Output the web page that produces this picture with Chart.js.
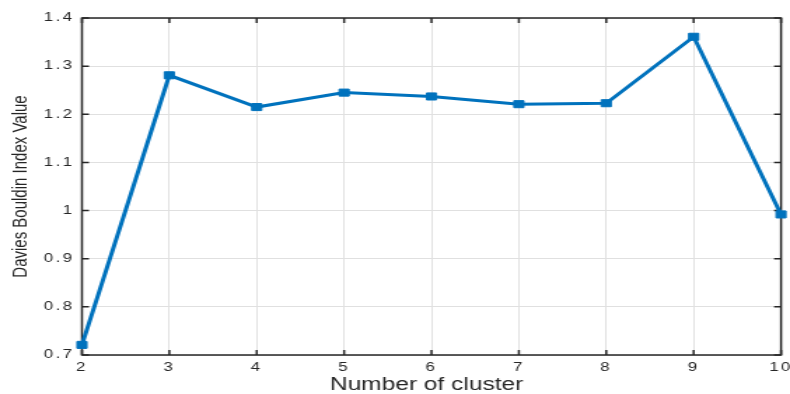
<!DOCTYPE html>
<html>
<head>
<meta charset="utf-8">
<script src="https://cdn.jsdelivr.net/npm/chart.js@4.4.1/dist/chart.umd.min.js"></script>
<style>
  html, body { margin: 0; padding: 0; background: #fff; overflow: hidden; }
  #wrap { width: 790px; height: 394px; overflow: hidden; }
  #c { display: block; transform-origin: 0 0; transform: scaleX(1.40071); }
</style>
</head>
<body>
<div id="wrap"><canvas id="c" width="564" height="394"></canvas></div>
<script>
// ---- data ----
const clusters = [2, 3, 4, 5, 6, 7, 8, 9, 10];
const dbiValues = [0.721, 1.281, 1.215, 1.245, 1.237, 1.221, 1.223, 1.361, 0.992];
const yTickValues = [0.7, 0.8, 0.9, 1.0, 1.1, 1.2, 1.3, 1.4];
const xLabel = 'Number of cluster';
const yLabel = 'Davies Bouldin Index Value';

const AXIS = '#262626';
const FONT = "'Liberation Sans', Arial, Helvetica, sans-serif";
const TICK_SPACING = '1.8px';

const points = clusters.map((c, i) => ({ x: c, y: dbiValues[i] }));

const spacingPlugin = {
  id: 'tickSpacing',
  beforeDraw(chart) {
    chart.ctx.letterSpacing = TICK_SPACING;
    Object.values(chart.scales).forEach(s => {
      if (s._titlePatched) return;
      const orig = s.drawTitle;
      s.drawTitle = function () {
        const ctx = this.ctx;
        const old = ctx.letterSpacing;
        ctx.save();
        ctx.letterSpacing = '0px';
        if (this.axis === 'x') ctx.translate(-3.5, 0);
        orig.apply(this, arguments);
        ctx.restore();
        ctx.letterSpacing = old;
      };
      s._titlePatched = true;
    });
  }
};

const boxPlugin = {
  id: 'matlabBox',
  beforeDatasetsDraw(chart) {
    const { ctx, chartArea: a, scales } = chart;
    ctx.save();
    ctx.strokeStyle = AXIS;
    ctx.lineWidth = 1.5;
    ctx.strokeRect(a.left, a.top, a.right - a.left, a.bottom - a.top);
    const tl = 5;
    ctx.beginPath();
    scales.x.ticks.forEach(t => {
      const px = scales.x.getPixelForValue(t.value);
      ctx.moveTo(px, a.bottom); ctx.lineTo(px, a.bottom - tl);
      ctx.moveTo(px, a.top); ctx.lineTo(px, a.top + tl);
    });
    scales.y.ticks.forEach(t => {
      const py = scales.y.getPixelForValue(t.value);
      ctx.moveTo(a.left, py); ctx.lineTo(a.left + tl, py);
      ctx.moveTo(a.right, py); ctx.lineTo(a.right - tl, py);
    });
    ctx.stroke();
    ctx.restore();
  }
};

new Chart(document.getElementById('c'), {
  type: 'line',
  data: {
    datasets: [{
      data: points,
      borderColor: '#0072BD',
      backgroundColor: '#0072BD',
      borderWidth: 3,
      pointStyle: 'rect',
      pointRadius: 5,
      pointBorderWidth: 1,
      pointBackgroundColor: '#0072BD',
      pointBorderColor: '#0072BD',
      tension: 0,
      clip: false
    }]
  },
  options: {
    responsive: false,
    animation: false,
    devicePixelRatio: 1,
    layout: { padding: { left: 0, right: 6.4, top: 18, bottom: 0 } },
    plugins: { legend: { display: false }, title: { display: false }, tooltip: { enabled: false } },
    scales: {
      x: {
        type: 'linear',
        min: 2, max: 10,
        border: { display: false },
        grid: { color: '#e0e0e0', lineWidth: 1, drawTicks: false },
        ticks: {
          stepSize: 1, padding: 5.5, color: AXIS,
          font: { family: FONT, size: 12 },
          maxRotation: 0, autoSkip: false
        },
        title: {
          display: true, text: xLabel, color: AXIS,
          font: { family: FONT, size: 17.5, lineHeight: 1.0 },
          padding: { top: 0, bottom: 0.5 }
        },
        afterFit(s) { s.height = 39; s.paddingLeft = 0; s.paddingRight = 0; }
      },
      y: {
        min: 0.7, max: 1.4,
        border: { display: false },
        grid: { color: '#e0e0e0', lineWidth: 1, drawTicks: false },
        afterBuildTicks(s) { s.ticks = yTickValues.map(v => ({ value: v })); },
        ticks: {
          stepSize: 0.1, padding: 5.2, color: AXIS,
          font: { family: FONT, size: 12 },
          callback: v => (Math.round(v * 10) / 10).toString()
        },
        title: {
          display: true, text: yLabel, color: AXIS,
          font: { family: FONT, size: 15, lineHeight: 1.2 },
          padding: { top: 6, bottom: 0 }
        },
        afterFit(s) { s.width = 58.5; s.paddingTop = 0; s.paddingBottom = 0; }
      }
    }
  },
  plugins: [spacingPlugin, boxPlugin]
});
</script>
</body>
</html>
